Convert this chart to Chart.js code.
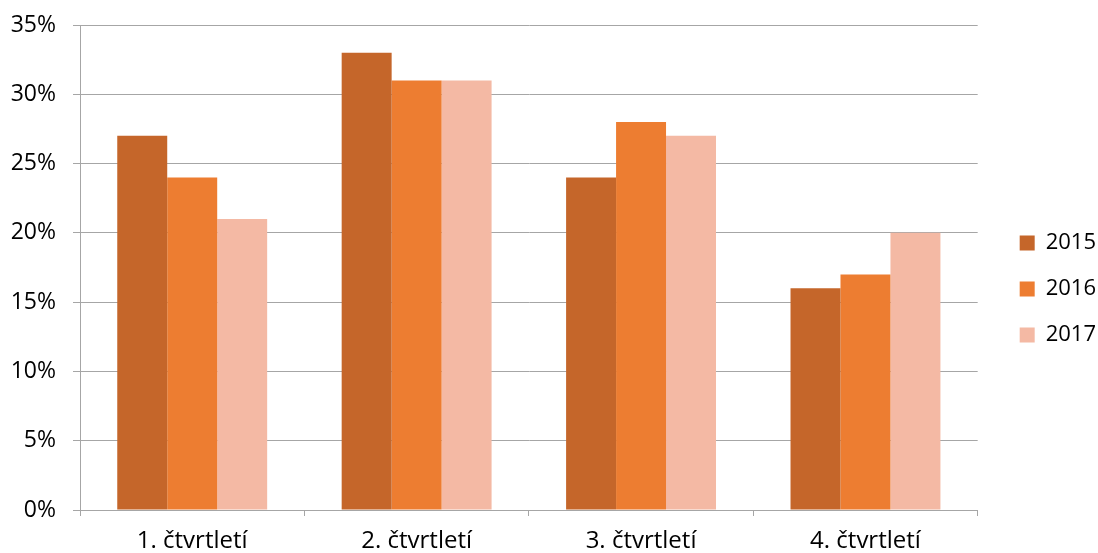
<!DOCTYPE html>
<html>
<head>
<meta charset="utf-8">
<script src="https://cdn.jsdelivr.net/npm/chart.js@4"></script>
<style>
  html, body { margin: 0; padding: 0; background: #fff; }
  #wrap { width: 1098px; height: 553px; }
</style>
</head>
<body>
<div id="wrap"><canvas id="chart"></canvas></div>
<script>
const categories = ['1. čtvrtletí', '2. čtvrtletí', '3. čtvrtletí', '4. čtvrtletí'];
const years = ['2015', '2016', '2017'];
const values2015 = [27, 33, 24, 16];
const values2016 = [24, 31, 28, 17];
const values2017 = [21, 31, 27, 20];
const colors = ['#C5662A', '#ED7D31', '#F4B9A4'];

const family = "'Open Sans', sans-serif";
const gridColor = '#a6a6a6';

const ctx = document.getElementById('chart').getContext('2d');
new Chart(ctx, {
  type: 'bar',
  data: {
    labels: categories,
    datasets: [values2015, values2016, values2017].map((d, i) => ({
      label: years[i],
      data: d,
      backgroundColor: colors[i],
      borderWidth: 0,
      barPercentage: 1,
      categoryPercentage: 0.668
    }))
  },
  options: {
    responsive: true,
    maintainAspectRatio: false,
    animation: false,
    layout: { padding: { top: 25, right: -8, left: 0, bottom: 0 } },
    plugins: {
      legend: {
        position: 'right',
        labels: {
          color: '#000',
          font: { family: family, size: 22 },
          boxWidth: 15,
          boxHeight: 15,
          padding: 24
        }
      },
      tooltip: { enabled: false }
    },
    scales: {
      x: {
        afterFit: s => { s.height = 43; },
        grid: { drawOnChartArea: false, tickLength: 6, color: gridColor },
        border: { color: gridColor },
        ticks: { color: '#000', font: { family: family, size: 24 }, padding: 11 }
      },
      y: {
        min: 0,
        max: 35,
        afterFit: s => { s.width = 80; s.paddingTop = 0; s.paddingBottom = 0; },
        grid: { color: gridColor, tickLength: 7 },
        border: { color: gridColor },
        ticks: {
          stepSize: 5,
          color: '#000',
          font: { family: family, size: 23 },
          padding: 17,
          callback: v => v + '%'
        }
      },
      gap: {
        type: 'linear',
        position: 'right',
        display: true,
        afterFit: s => { s.width = 18; },
        grid: { display: false },
        border: { display: false },
        ticks: { display: false }
      }
    }
  }
});
</script>
</body>
</html>
